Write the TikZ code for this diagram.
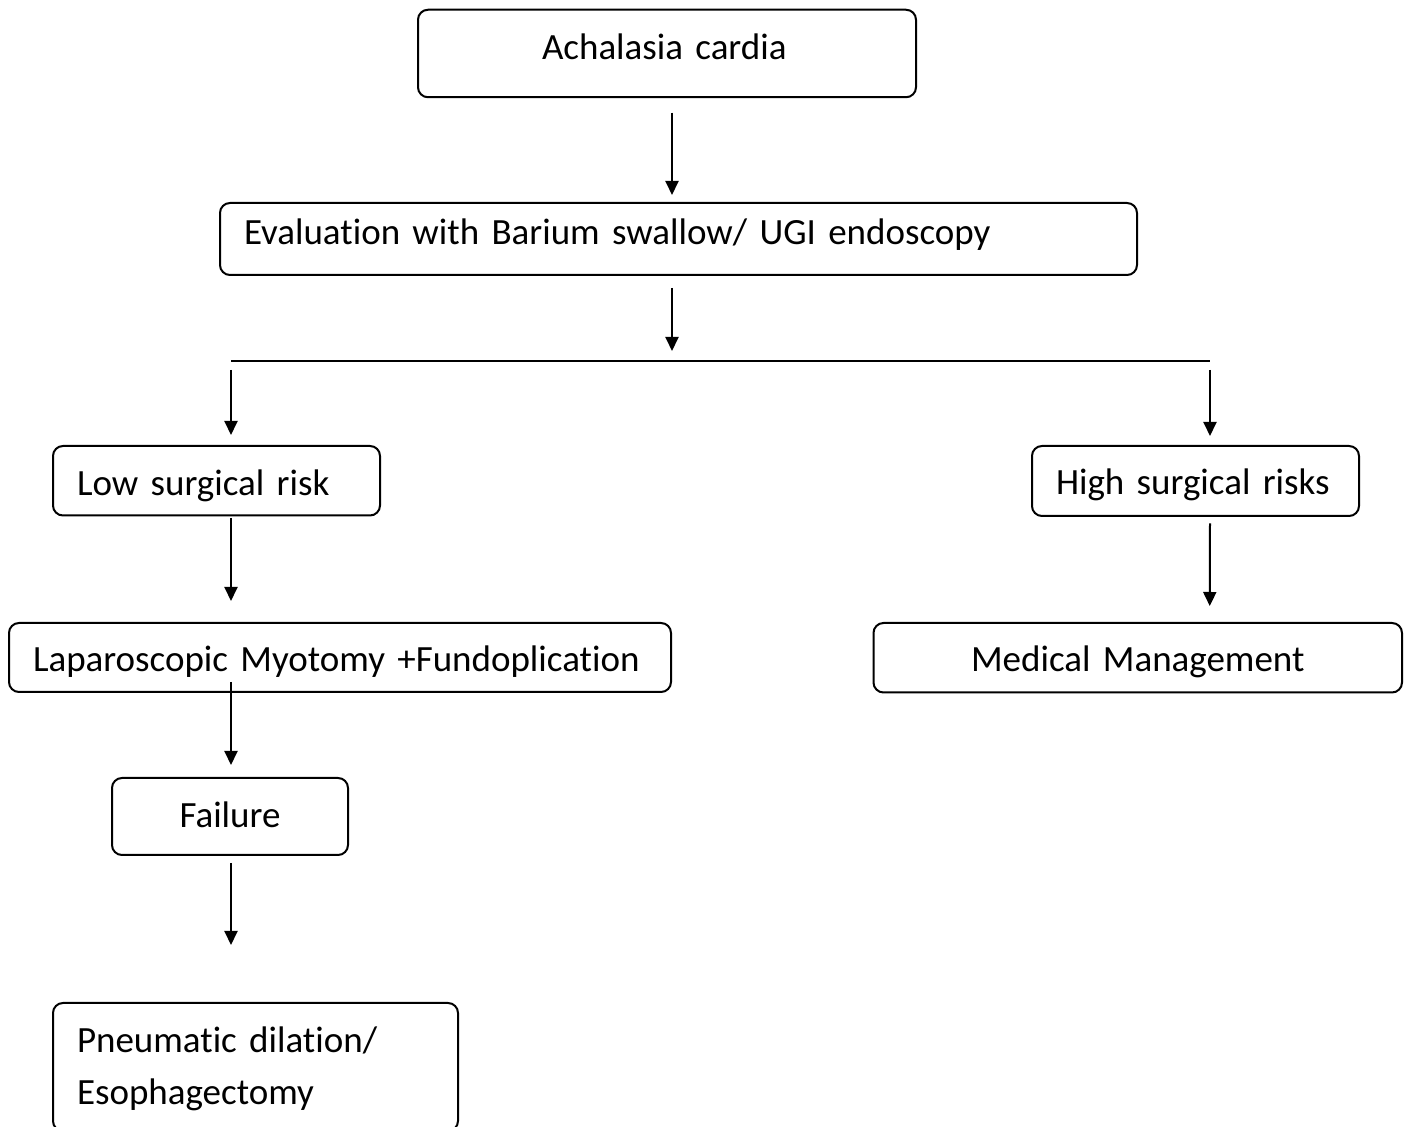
\documentclass[tikz,border=0pt]{standalone}
\usepackage{fontspec}
\setmainfont{Carlito}[Ligatures=NoCommon, WordSpace=0.8]
\usetikzlibrary{arrows.meta}
\tikzstyle{arrow} = [line width=1pt,-{Triangle[length=7pt,width=6.5pt]}]

\begin{document}
\begin{tikzpicture}[x=0.5pt,y=-0.5pt]
   \tikzset{box/.style={draw, rectangle, line width=1pt, rounded corners=5pt, inner xsep=12pt, inner ysep=0pt,
   font=\fontsize{18.5}{26}\selectfont, text height=#1, text depth=0pt},
   lbox/.style={box=#1, align=left},
   cbox/.style={box=#1, align=center},
   }
 \useasboundingbox (0,0) rectangle (1405,1127);

 \node [lbox=5.8pt, inner xsep=62pt, text width=125pt, minimum height=43.75pt] (achalasia) at (667,53.5) {Achalasia cardia};
 \node [lbox=6pt, text width=434.5pt, minimum height=36pt] (evaluation) at (678.5,239) {Evaluation with Barium swallow/ UGI endoscopy};

 \coordinate (forkL) at (231,361);
 \coordinate (forkM) at (672,361);
 \coordinate (forkR) at (1210,361);

 \node [lbox=14.5pt, text width=139.5pt, minimum height=34.75pt] (low) at (216.5,480.75) {Low surgical risk};
 \node [lbox=14pt, text width=139.5pt, minimum height=35pt] (high) at (1195.5,481) {High surgical risks};

 \node [lbox=14pt, text width=307pt, minimum height=34.5pt] (lap) at (340,657.5) {Laparoscopic Myotomy +Fundoplication};
 \node [cbox=14pt, text width=240.25pt, minimum height=34.75pt] (medical) at (1137.75,657.75) {Medical Management};

 \node [cbox=11.5pt, text width=94pt, minimum height=38.5pt] (failure) at (230,816.5) {Failure};
 \node [lbox=12pt, text depth=26pt, text width=178.5pt, minimum height=64pt] (pneumatic) at (255.5,1067) {Pneumatic dilation/\\Esophagectomy};

 \draw [arrow] ([xshift=2.5pt,yshift=-7.2pt]achalasia.south) -- ([xshift=-3.25pt,yshift=3.5pt]evaluation.north);
 \draw [arrow] ([xshift=-3.25pt,yshift=-6pt]evaluation.south) -- ([yshift=5pt]forkM);
 \draw [line width=0.8pt] (forkL) -- (forkR);
 \draw [arrow] ([yshift=-4.5pt]forkL) -- ([xshift=7.25pt,yshift=5pt]low.north);
 \draw [arrow] ([yshift=-4.5pt]forkR) -- ([xshift=7.25pt,yshift=4.5pt]high.north);
 \draw [arrow] ([xshift=7.25pt,yshift=-0.75pt]low.south) -- ([xshift=-54.5pt,yshift=10.5pt]lap.north);
 \draw [arrow] ([xshift=7.25pt,yshift=-3.15pt]high.south) -- ([xshift=36pt,yshift=8pt]medical.north);
 \draw [arrow] ([xshift=-54.5pt,yshift=5.5pt]lap.south) -- ([xshift=0.5pt,yshift=6pt]failure.north);
 \draw [arrow] ([xshift=0.5pt,yshift=-3.5pt]failure.south) -- ([xshift=-12.25pt,yshift=28.5pt]pneumatic.north);
\end{tikzpicture}
\end{document}
